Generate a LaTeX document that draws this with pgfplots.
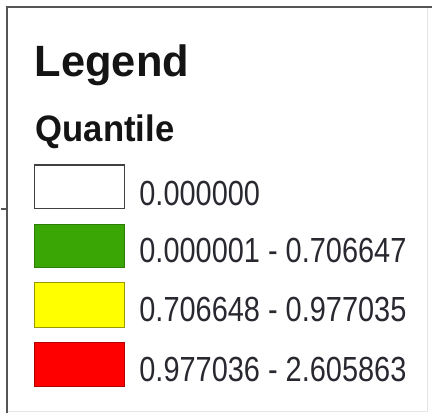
\documentclass[border=0pt]{standalone}
\usepackage{pgfplots}
\pgfplotsset{compat=1.18}
\usepackage{fontspec}
\setmainfont{Liberation Sans}
\newfontfamily\lab[FakeStretch=0.83]{Liberation Sans}
\newfontfamily\ttl[FakeStretch=0.99]{Liberation Sans}
\newfontfamily\sub[FakeStretch=0.94]{Liberation Sans}
\definecolor{qgreen}{RGB}{58,166,6}
\definecolor{qyellow}{RGB}{255,255,0}
\definecolor{qred}{RGB}{255,0,0}
\definecolor{frame}{RGB}{85,85,85}
\definecolor{txt}{RGB}{40,40,48}
\begin{document}
\begin{tikzpicture}
\begin{axis}[
  scale only axis, width=433pt, height=415pt,
  xmin=0, xmax=433, ymin=0, ymax=415, y dir=reverse,
  hide axis, clip=false,
]
% background
\addplot[fill=white, draw=none] coordinates {(0,0) (433,0) (433,415) (0,415)} -- cycle;
% faint right/bottom edges
\addplot[draw=black!10, line width=1pt] coordinates {(428,8) (428,413) (7,413)};
% frame
\addplot[draw=frame, line width=2pt] coordinates {(6.5,415) (6.5,7) (433,7)};
\addplot[draw=frame, line width=1.5pt] coordinates {(0,210) (6,210)};
% legend patches
\addplot[fill=white, draw=black!75, line width=1.5pt] coordinates {(34,165.5) (124,165.5) (124,209.5) (34,209.5)} -- cycle;
\addplot[fill=qgreen, draw=qgreen!75!black, line width=1pt] coordinates {(34,225) (124,225) (124,269) (34,269)} -- cycle;
\addplot[fill=qyellow, draw=qyellow!60!black, line width=1pt] coordinates {(34,284) (124,284) (124,329) (34,329)} -- cycle;
\addplot[fill=qred, draw=qred!70!black, line width=1pt] coordinates {(34,344) (124,344) (124,388) (34,388)} -- cycle;
% texts
\node[anchor=base west, inner sep=0pt, text=black!92] at (axis cs:34,77) {\fontsize{44}{48}\selectfont\ttl\bfseries Legend};
\node[anchor=base west, inner sep=0pt, text=black!92] at (axis cs:35,142) {\fontsize{37}{42}\selectfont\sub\bfseries Quantile};
\node[anchor=base west, inner sep=0pt, text=txt] at (axis cs:139,206) {\fontsize{35}{40}\selectfont\lab 0.000000};
\node[anchor=base west, inner sep=0pt, text=txt] at (axis cs:139,264) {\fontsize{35}{40}\selectfont\lab 0.000001 - 0.706647};
\node[anchor=base west, inner sep=0pt, text=txt] at (axis cs:139,323) {\fontsize{35}{40}\selectfont\lab 0.706648 - 0.977035};
\node[anchor=base west, inner sep=0pt, text=txt] at (axis cs:139,383) {\fontsize{35}{40}\selectfont\lab 0.977036 - 2.605863};
\end{axis}
\end{tikzpicture}
\end{document}
